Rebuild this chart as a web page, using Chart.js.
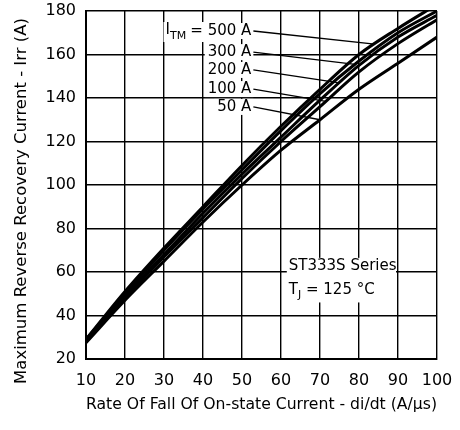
<!DOCTYPE html>
<html>
<head>
<meta charset="utf-8">
<script src="https://cdn.jsdelivr.net/npm/chart.js@4.4.0/dist/chart.umd.min.js"></script>
<style>
  body { margin: 0; background: #fff; }
  #wrap { width: 460px; height: 430px; }
</style>
</head>
<body>
<div id="wrap"><canvas id="chart"></canvas></div>
<script>
// di/dt (A/us) and Irr (A)
const rate = [10, 20, 30, 40, 50, 60, 70, 80, 90, 100];
const irr500 = [29, 51, 71, 90, 109, 127, 144, 160, 172, 183];
const irr300 = [29, 50, 70, 89, 107, 125, 142, 157, 170, 180];
const irr200 = [28, 49, 68, 87, 105, 122, 139, 155, 168, 178];
const irr100 = [28, 48, 67, 85, 103, 120, 136, 152, 165, 176];
const irr50 = [27.5, 47, 65, 83, 100, 116, 130, 144, 156, 168];
const seriesNames = ["500 A", "300 A", "200 A", "100 A", "50 A"];
const seriesValues = [irr500, irr300, irr200, irr100, irr50];
const xTicks = [10, 20, 30, 40, 50, 60, 70, 80, 90, 100];
const yTicks = [20, 40, 60, 80, 100, 120, 140, 160, 180];

const FONT = "'DejaVu Sans', sans-serif";
const Y_TITLE = "Maximum Reverse Recovery Current - Irr (A)";

// where the I_TM labels sit and where their leaders hit the curves
const labelSpots = [
  { y: 170.8, toX: 84 },
  { y: 161.1, toX: 79 },
  { y: 152.9, toX: 75 },
  { y: 144.1, toX: 71.5 },
  { y: 135.9, toX: 70 },
];
const labelRight = 52.4;

function valueAt(arr, x) {
  for (let i = 0; i < rate.length - 1; i++) {
    if (x >= rate[i] && x <= rate[i + 1]) {
      const t = (x - rate[i]) / (rate[i + 1] - rate[i]);
      return arr[i] + t * (arr[i + 1] - arr[i]);
    }
  }
  return arr[arr.length - 1];
}

const notes = {
  id: "notes",
  afterDatasetsDraw(chart) {
    const { ctx, scales: { x, y } } = chart;
    ctx.save();
    ctx.strokeStyle = "#000";
    ctx.textBaseline = "middle";

    seriesNames.forEach((name, i) => {
      const spot = labelSpots[i];
      const rx = x.getPixelForValue(labelRight);
      const py = y.getPixelForValue(spot.y);
      ctx.font = "15px " + FONT;
      ctx.textAlign = "right";
      const w = ctx.measureText(name).width;
      ctx.fillStyle = "#fff";
      ctx.fillRect(rx - w - 3, py - 8, w + 5, 16);
      ctx.fillStyle = "#000";
      ctx.fillText(name, rx, py);
      if (i === 0) {
        // "I_TM = " in front of the first label
        const ew = ctx.measureText("=").width;
        const ex = rx - w - 5;
        ctx.font = "11px " + FONT;
        const sw = ctx.measureText("TM").width;
        ctx.font = "15px " + FONT;
        const iw = ctx.measureText("I").width;
        const left = ex - ew - 4 - sw - iw;
        ctx.fillStyle = "#fff";
        ctx.fillRect(left - 2, py - 9, ex - left + 4, 20);
        ctx.fillStyle = "#000";
        ctx.fillText("=", ex, py);
        ctx.textAlign = "left";
        ctx.fillText("I", left, py - 1);
        ctx.font = "11px " + FONT;
        ctx.fillText("TM", left + iw, py + 5);
      }
      // leader
      ctx.lineWidth = 1.3;
      ctx.beginPath();
      ctx.moveTo(rx + 2, py);
      ctx.lineTo(x.getPixelForValue(spot.toX), y.getPixelForValue(valueAt(seriesValues[i], spot.toX)));
      ctx.stroke();
    });

    // series box
    const bx = x.getPixelForValue(62);
    const by = y.getPixelForValue(66.5);
    ctx.fillStyle = "#fff";
    ctx.fillRect(bx - 2, by, x.getPixelForValue(90) - bx, y.getPixelForValue(46) - by);
    ctx.fillStyle = "#000";
    ctx.textAlign = "left";
    ctx.font = "15px " + FONT;
    ctx.fillText("ST333S Series", bx, y.getPixelForValue(62.8));
    const ty = y.getPixelForValue(51.7);
    ctx.fillText("T", bx, ty);
    const tw = ctx.measureText("T").width;
    ctx.font = "11px " + FONT;
    ctx.fillText("J", bx + tw, ty + 5);
    const jw = ctx.measureText("J").width;
    ctx.font = "15px " + FONT;
    ctx.fillText(" = 125 °C", bx + tw + jw, ty);

    // y axis title, centred a bit below the plot middle like the original
    ctx.translate(22, 201);
    ctx.rotate(-Math.PI / 2);
    ctx.textAlign = "center";
    ctx.font = "16.5px " + FONT;
    ctx.fillText(Y_TITLE, 0, 0);
    ctx.restore();
  },
};

const chart = document.querySelector("#chart").getContext("2d");

new Chart(chart, {
  type: "line",
  data: {
    datasets: seriesValues.map((vals, i) => ({
      label: seriesNames[i],
      data: rate.map((r, j) => ({ x: r, y: vals[j] })),
      borderColor: "#000",
      borderWidth: 3,
      pointRadius: 0,
      cubicInterpolationMode: "monotone",
      fill: false,
    })),
  },
  options: {
    responsive: true,
    maintainAspectRatio: false,
    animation: false,
    layout: { padding: { top: 11, right: 23, left: 0, bottom: 0 } },
    plugins: {
      legend: { display: false },
      tooltip: { enabled: false },
    },
    scales: {
      x: {
        type: "linear",
        min: 10,
        max: 100,
        afterBuildTicks: (s) => { s.ticks = xTicks.map((v) => ({ value: v })); },
        afterFit: (s) => { s.height = 71; s.paddingLeft = 0; s.paddingRight = 0; },
        grid: { color: "#000", lineWidth: 1.4, drawTicks: false },
        border: { color: "#000", width: 2 },
        ticks: { color: "#000", font: { family: FONT, size: 16 }, padding: 12, maxRotation: 0 },
        title: {
          display: true,
          text: "Rate Of Fall Of On-state Current - di/dt (A/µs)",
          color: "#000",
          font: { family: FONT, size: 16.5 },
          padding: { top: 0, bottom: 15 },
        },
      },
      y: {
        min: 20,
        max: 180,
        afterBuildTicks: (s) => { s.ticks = yTicks.map((v) => ({ value: v })); },
        afterFit: (s) => { s.width = 86; s.paddingTop = 0; s.paddingBottom = 0; },
        grid: { color: "#000", lineWidth: 1.4, drawTicks: false },
        border: { color: "#000", width: 2 },
        ticks: { color: "#000", font: { family: FONT, size: 16 }, padding: 10 },
      },
    },
  },
  plugins: [notes],
});
</script>
</body>
</html>
